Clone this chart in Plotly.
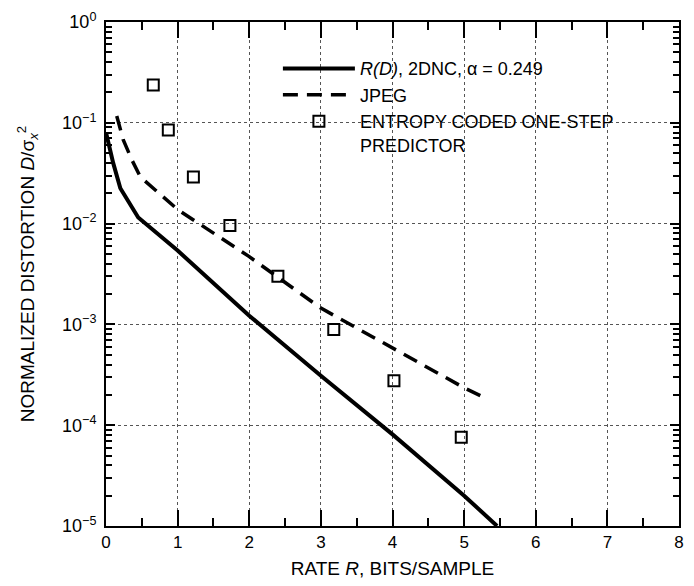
import plotly.graph_objects as go

# R(D) curve, 2DNC alpha = 0.249
rd_rate = [0.0, 0.1, 0.2, 0.45, 1.0, 2.0, 3.0, 4.0, 5.0, 5.46]
rd_dist = [0.080, 0.040, 0.0224, 0.0115, 0.0054, 0.00122, 0.00031, 8.1e-5, 2.0e-5, 1.0e-5]

# JPEG
jpeg_rate = [0.15, 0.24, 0.36, 0.48, 1.0, 2.0, 3.0, 4.0, 5.0, 5.32]
jpeg_dist = [0.117, 0.068, 0.043, 0.029, 0.0138, 0.0047, 0.00145, 0.00058, 0.000235, 0.000182]

# Entropy coded one-step predictor
pred_rate = [0.66, 0.87, 1.22, 1.73, 2.40, 3.18, 4.02, 4.96]
pred_dist = [0.237, 0.085, 0.029, 0.0096, 0.0030, 0.00089, 0.000276, 7.6e-5]

y_tickvals = [1, 0.1, 0.01, 0.001, 0.0001, 0.00001]
y_ticktext = ["10<sup>0</sup>", "10<sup>\u22121</sup>", "10<sup>\u22122</sup>",
              "10<sup>\u22123</sup>", "10<sup>\u22124</sup>", "10<sup>\u22125</sup>"]
x_tickvals = [0, 1, 2, 3, 4, 5, 6, 7, 8]

y_minor = [m * 10.0 ** e for e in range(-5, 0) for m in range(2, 10)]

FONT = "Liberation Sans, Arial, Helvetica, sans-serif"

fig = go.Figure()
fig.add_trace(go.Scatter(
    x=rd_rate, y=rd_dist, mode="lines",
    name="<i>R(D)</i>, 2DNC, \u03b1 = 0.249",
    line=dict(color="black", width=4)))
fig.add_trace(go.Scatter(
    x=jpeg_rate, y=jpeg_dist, mode="lines",
    name="JPEG",
    line=dict(color="black", width=3.5, dash="15px,9px")))
fig.add_trace(go.Scatter(
    x=pred_rate, y=pred_dist, mode="markers",
    name="ENTROPY CODED ONE-STEP<br>PREDICTOR",
    marker=dict(symbol="square-open", size=11, color="black",
                line=dict(color="black", width=2))))

# white box behind legend (hides grid lines there)
fig.add_shape(type="rect", xref="paper", yref="paper",
              x0=0.286, x1=0.932, y0=0.712, y1=0.925,
              fillcolor="white", line=dict(width=0), layer="between")

fig.update_layout(
    width=694, height=586,
    margin=dict(l=106, r=15, t=10, b=59),
    paper_bgcolor="white", plot_bgcolor="white",
    font=dict(family=FONT, size=17, color="black"),
    showlegend=True,
    legend=dict(x=0.3, y=0.944, xanchor="left", yanchor="top",
                bgcolor="rgba(255,255,255,0)", font=dict(size=18, family=FONT),
                itemwidth=72, tracegroupgap=0, valign="top"),
)

fig.update_xaxes(
    range=[0, 8], tickvals=x_tickvals,
    ticks="inside", ticklen=16, tickwidth=1.5, tickcolor="black",
    minor=dict(ticks="inside", ticklen=8, tickwidth=1.5, dtick=0.5, tickcolor="black", showgrid=False),
    showline=True, linecolor="black", linewidth=2, mirror="ticks",
    showgrid=True, gridcolor="#555555", gridwidth=1, griddash="dot",
    zeroline=False,
    tickfont=dict(size=17, family=FONT),
    title=dict(text="RATE <i>R</i>, BITS/SAMPLE", font=dict(size=19, family=FONT), standoff=10),
)
fig.update_yaxes(
    type="log", range=[-5, 0],
    tickvals=y_tickvals, ticktext=y_ticktext,
    ticks="inside", ticklen=9, tickwidth=1.5, tickcolor="black",
    minor=dict(ticks="inside", ticklen=6, tickwidth=1.5, tickvals=y_minor, tickcolor="black", showgrid=False),
    showline=True, linecolor="black", linewidth=2, mirror="ticks",
    showgrid=True, gridcolor="#555555", gridwidth=1, griddash="dot",
    zeroline=False,
    tickfont=dict(size=18, family=FONT),
    ticklabelstandoff=4, ticklabeloverflow="allow",
    title=dict(text="NORMALIZED DISTORTION <i>D</i>/\u03c3<sub><i>x</i></sub><sup>2</sup>",
               font=dict(size=19, family=FONT), standoff=22),
)

fig.write_html("out.html", config={"displayModeBar": False},
               post_script="document.body.style.margin='0';")
